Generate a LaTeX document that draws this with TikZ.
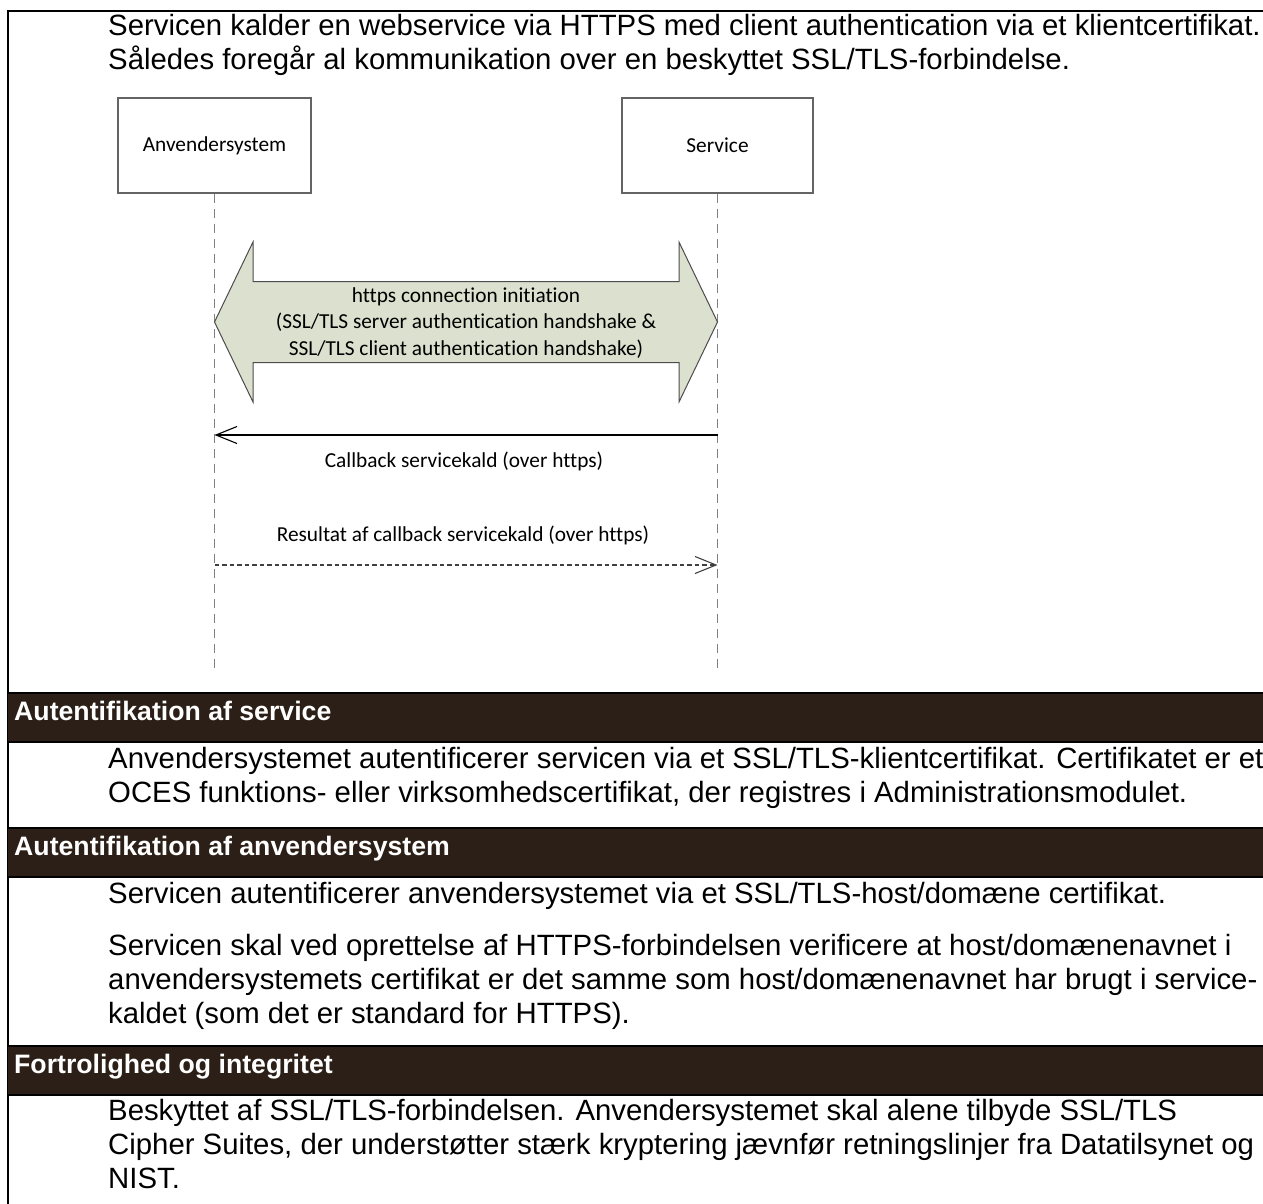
\documentclass[tikz,border=0pt]{standalone}
\usepackage{fontspec}
\setmainfont[Ligatures={NoCommon}]{Liberation Sans}
\newfontfamily\diagfont[Ligatures={NoCommon}]{Carlito}
\usetikzlibrary{arrows.meta}
\definecolor{barbrown}{RGB}{44,31,23}
\definecolor{blockfill}{RGB}{220,224,206}
\definecolor{lineGray}{RGB}{128,128,128}
\definecolor{boxGray}{RGB}{100,100,100}
\begin{document}
\begin{tikzpicture}[x=1pt,y=-1pt,
  body/.style={anchor=base west,inner sep=0pt,font=\fontsize{29.33}{33.7}\selectfont},
  barhead/.style={anchor=base west,inner sep=0pt,text=white,font=\bfseries\fontsize{26.67}{30}\selectfont},
  actor/.style={draw=boxGray,line width=1.2pt,fill=white,minimum height=95pt,inner sep=0pt,
    font=\diagfont\fontsize{21.33}{26}\selectfont},
  lifeline/.style={draw=lineGray,line width=1.3pt,dash pattern=on 9pt off 6pt},
  difftext/.style={inner sep=0pt,font=\diagfont\fontsize{21.33}{26.5}\selectfont,align=center},
  msg/.style={draw=black,line width=1.1pt,-{Straight Barb[length=21pt,width=17pt,line width=1.1pt]}},
  reply/.style={draw=black!75,line width=1.1pt,dash pattern=on 4.5pt off 3pt,
    -{Straight Barb[length=21pt,width=17pt,line width=1.1pt]}},
  blockarrow/.style={draw=black!70,line width=1pt,fill=blockfill},
  bar/.style={fill=barbrown},
  barline/.style={draw=black,line width=1.5pt},
  frame/.style={draw=black,line width=2pt}
]
\useasboundingbox (0,0) rectangle (1263,1204);

% outer frame of the table
\draw[frame] (8,1204) -- (8,11) -- (1263,11);

% introductory text
\node[body] (t1) at (108,36) {Servicen kalder en webservice via HTTPS med client authentication via et klientcertifikat.};
\node[body] (t2) at (108,70) {Således foregår al kommunikation over en beskyttet SSL/TLS-forbindelse.};

% sequence diagram: participants and lifelines
\node[actor,minimum width=193pt] (anv) at (214.5,145.5) {Anvendersystem};
\node[actor,minimum width=191pt] (srv) at (717.5,145.5) {Service};
\coordinate (anvEnd) at (214.5,672);
\coordinate (srvEnd) at (717.5,672);
\draw[lifeline] (anv.south) -- (anvEnd);
\draw[lifeline] (srv.south) -- (srvEnd);

% connection initiation (two-headed block arrow)
\coordinate (hsL) at (214.5,322);
\coordinate (hsR) at (717.5,322);
\draw[blockarrow] (hsL) -- (253,242) -- (253,281.5) -- (679,281.5) -- (679,242) -- (hsR)
  -- (679,402) -- (679,362.5) -- (253,362.5) -- (253,402) -- cycle;
\node[difftext] (hs) at (466,323) {https connection initiation\\(SSL/TLS server authentication handshake \&\\SSL/TLS client authentication handshake)};

% callback call
\coordinate (cbS) at (717.5,435);
\coordinate (cbA) at (214.5,435);
\draw[msg] (cbS) -- (cbA);
\node[difftext] (cbl) at (464,461) {Callback servicekald (over https)};

% callback result
\node[difftext] (rsl) at (463,535) {Resultat af callback servicekald (over https)};
\coordinate (rsA) at (214.5,565);
\coordinate (rsS) at (717.5,565);
\draw[reply] (rsA) -- (rsS);

% section: authentication of the service
\path[bar] (8,693) rectangle (1263,742);
\draw[barline] (8,693) -- (1263,693);
\draw[barline] (8,742) -- (1263,742);
\node[barhead] (h1) at (14,720) {Autentifikation af service};
\node[body] (p11) at (108,768) {Anvendersystemet autentificerer servicen via et SSL/TLS-klientcertifikat. Certifikatet er et};
\node[body] (p12) at (108,802) {OCES funktions- eller virksomhedscertifikat, der registres i Administrationsmodulet.};

% section: authentication of the client system
\path[bar] (8,828) rectangle (1263,877);
\draw[barline] (8,828) -- (1263,828);
\draw[barline] (8,877) -- (1263,877);
\node[barhead] (h2) at (14,855) {Autentifikation af anvendersystem};
\node[body] (p21) at (108,903) {Servicen autentificerer anvendersystemet via et SSL/TLS-host/domæne certifikat.};
\node[body] (p22) at (108,955) {Servicen skal ved oprettelse af HTTPS-forbindelsen verificere at host/domænenavnet i};
\node[body] (p23) at (108,989) {anvendersystemets certifikat er det samme som host/domænenavnet har brugt i service-};
\node[body] (p24) at (108,1023) {kaldet (som det er standard for HTTPS).};

% section: confidentiality and integrity
\path[bar] (8,1046) rectangle (1263,1095);
\draw[barline] (8,1046) -- (1263,1046);
\draw[barline] (8,1095) -- (1263,1095);
\node[barhead] (h3) at (14,1073) {Fortrolighed og integritet};
\node[body] (p31) at (108,1120) {Beskyttet af SSL/TLS-forbindelsen. Anvendersystemet skal alene tilbyde SSL/TLS};
\node[body] (p32) at (108,1154) {Cipher Suites, der understøtter stærk kryptering jævnfør retningslinjer fra Datatilsynet og};
\node[body] (p33) at (108,1188) {NIST.};
\end{tikzpicture}
\end{document}
